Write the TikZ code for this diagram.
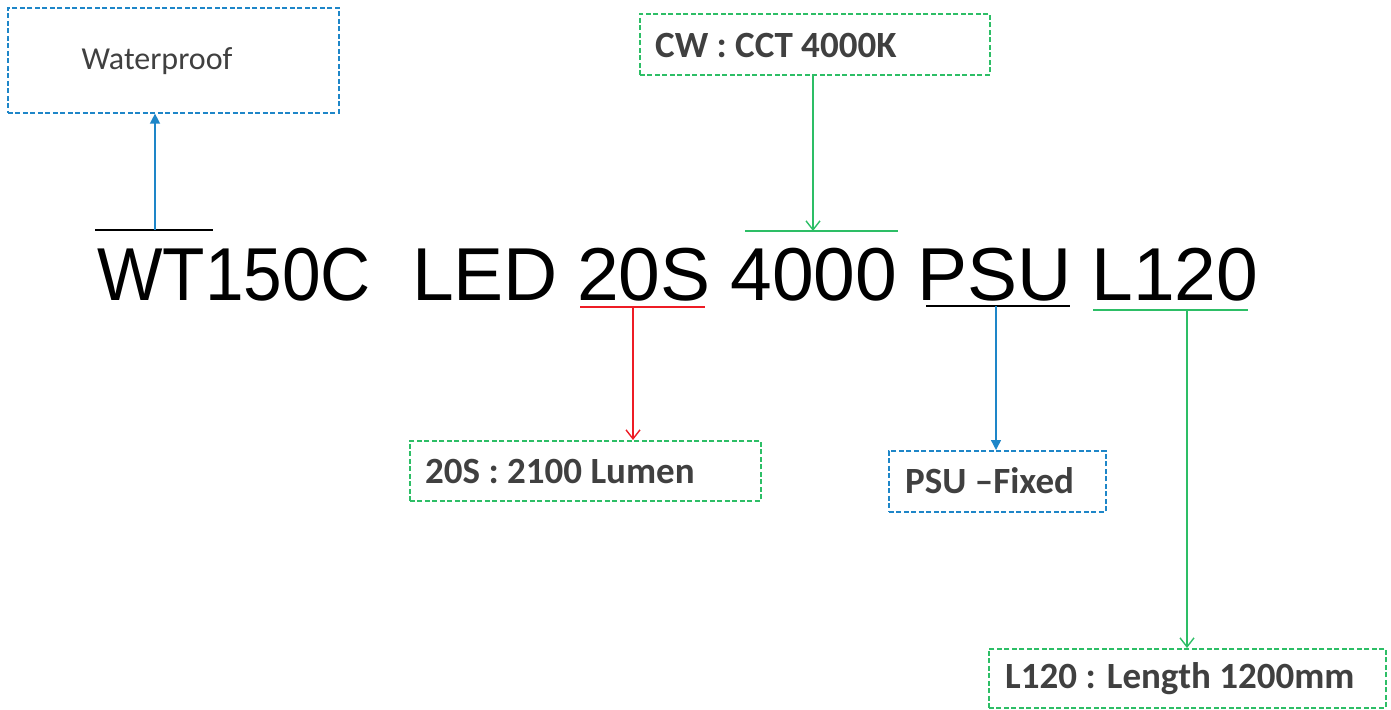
\documentclass[tikz,border=0pt]{standalone}
\usepackage{fontspec}
\setmainfont{Liberation Sans}
\newfontfamily\lbl{Carlito}
\usetikzlibrary{arrows.meta}
\definecolor{cblue}{HTML}{1E86C8}
\definecolor{cgreen}{HTML}{2DBE66}
\definecolor{cred}{HTML}{EE1C25}
\definecolor{ctext}{HTML}{404040}
\tikzset{
  dbox/.style={draw=#1, dash pattern=on 5pt off 2.5pt, line width=1.6pt, inner sep=0pt, anchor=north west},
  lbltext/.style={anchor=west, inner sep=0pt, text=ctext, font=\lbl\bfseries\fontsize{37}{42}\selectfont},
  word/.style={anchor=base, inner sep=0pt, font=\fontsize{75}{80}\selectfont},
  ulmark/.style={line width=1.6pt},
  openarrow/.style={line width=1.4pt, -{Straight Barb[length=9pt,width=14pt,line width=1.4pt]}},
  fillarrow/.style={line width=1.4pt, -{Triangle[length=10pt,width=10pt]}},
}
\begin{document}
\begin{tikzpicture}[x=1pt,y=-1pt]
\useasboundingbox (0,0) rectangle (1391,709);
% main code words
\node[word] (w1) at (234,300) {\scalebox{0.925}[1]{WT150C}};
\node[word] (w2) at (485,300) {LED};
\node[word] (w3) at (644,300) {20S};
\node[word] (w4) at (814,300) {4000};
\node[word] (w5) at (995,300) {PSU};
\node[word] (w6) at (1175,300) {L120};
% boxes
\node[dbox=cblue, minimum width=331pt, minimum height=105pt] (wpbox) at (7,7) {};
\node[anchor=center, inner sep=0pt, text=ctext, font=\lbl\fontsize{32}{36}\selectfont] (wptext) at (157,61) {Waterproof};
\node[dbox=cgreen, minimum width=350pt, minimum height=61pt] (cwbox) at (639,13) {};
\node[lbltext] (cwtext) at (655,45) {CW : CCT 4000K};
\node[dbox=cgreen, minimum width=351pt, minimum height=60pt] (lmbox) at (409,440) {};
\node[lbltext] (lmtext) at (425,471) {20S : 2100 Lumen};
\node[dbox=cblue, minimum width=217pt, minimum height=61pt] (psbox) at (888,450) {};
\node[lbltext] (pstext) at (905,481) {PSU –Fixed};
\node[dbox=cgreen, minimum width=397pt, minimum height=59pt] (lnbox) at (988,648) {};
\node[lbltext] (lntext) at (1005,679) {L120 : Length 1200mm};
% marks
\coordinate (o1a) at (95,230); \coordinate (o1b) at (213,230); \coordinate (o1) at (155,230);
\coordinate (u3a) at (580,307); \coordinate (u3b) at (705,307); \coordinate (u3) at (633,307);
\coordinate (o4a) at (745,231); \coordinate (o4b) at (898,231); \coordinate (o4) at (813,231);
\coordinate (u5a) at (926,306); \coordinate (u5b) at (1070,306); \coordinate (u5) at (996,306);
\coordinate (u6a) at (1093,310); \coordinate (u6b) at (1248,310); \coordinate (u6) at (1187,310);
\draw[ulmark, black] (o1a) -- (o1b);
\draw[ulmark, cred] (u3a) -- (u3b);
\draw[ulmark, cgreen] (o4a) -- (o4b);
\draw[ulmark, black] (u5a) -- (u5b);
\draw[ulmark, cgreen] (u6a) -- (u6b);
% connectors
\draw[fillarrow, cblue] (o1) -- (o1 |- wpbox.south);
\draw[openarrow, cgreen] (o4 |- cwbox.south) -- (o4);
\draw[openarrow, cred] (u3) -- (u3 |- lmbox.north);
\draw[fillarrow, cblue] (u5) -- (u5 |- psbox.north);
\draw[openarrow, cgreen] (u6) -- (u6 |- lnbox.north);
\end{tikzpicture}
\end{document}
